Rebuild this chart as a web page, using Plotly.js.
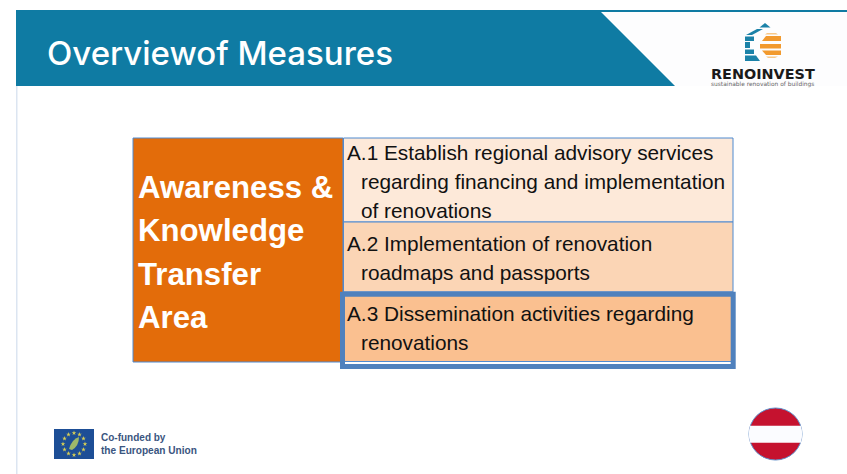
<!DOCTYPE html>
<html><head><meta charset="utf-8">
<script src="https://cdn.plot.ly/plotly-3.0.1.min.js"></script>
<style>html,body{margin:0;padding:0;background:#fff;overflow:hidden}#c{width:847px;height:474px}</style>
</head><body><div id="c"></div>
<script>
const titleText = "Overviewof Measures";
const areaLines = ["Awareness &","Knowledge","Transfer","Area"];
const areaY = [187,230,274,317];
const rowLines = [
  ["A.1 Establish regional advisory services",346,152],
  ["regarding financing and implementation",360,181],
  ["of renovations",360,210],
  ["A.2 Implementation of renovation",346,243],
  ["roadmaps and passports",360,272],
  ["A.3 Dissemination activities regarding",346,313],
  ["renovations",360,342]
];
const rowTop = [138,222,292];
const rowBottom = [222,292,361.5];
const rowFill = ["#FDE9D9","#FBD5B5","#FAC090"];
const starX = [74,79.5,83.5,85,83.5,79.5,74,68.5,64.5,63,64.5,68.5];
const starY = [433,434.5,438.5,444,449.5,453.5,455,453.5,449.5,444,438.5,434.5];

const shapes = [];
const rect=(x0,y0,x1,y1,fill,line,w)=>shapes.push({type:'rect',x0,y0,x1,y1,fillcolor:fill,line:{color:line||fill,width:w===undefined?0:w},layer:'below'});
const path=(d,fill)=>shapes.push({type:'path',path:d,fillcolor:fill,line:{width:0},layer:'below'});

// slide frame
rect(16,86,17.5,474,"#DCE5F1");
rect(16,10,600,86,"#0F7BA3");
rect(600,10,847,12,"#0F7BA3");
path("M600,10 L601,12 L675,86 L600,86 Z","#0F7BA3");
path("M603,12 L847,12 L847,86 L677,86 Z","#FDFDFE");

// table
rect(133,138,343,362,"#E36C0A","#4F8AD0",1);
rowTop.forEach((t,i)=>rect(343.5,t,733,rowBottom[i],rowFill[i],"#4F8AD0",1));
shapes.push({type:'rect',x0:342.5,y0:294.2,x1:733.2,y1:366.5,fillcolor:'rgba(0,0,0,0)',line:{color:"#4F81BD",width:5}});

// logo mark
const b="#1B82A8", o="#F29A2E";
path("M765,23 L770.5,27.5 L759.5,27.5 Z",b);
path("M757,29 L763,29 L752,35 L746,35 Z",b);
rect(745,36.5,754,41,b);
rect(745,42,750,48,b);
rect(745,49.5,754,54,b);
path("M745,55.5 L756,55.5 L760,61 L745,61 Z",b);
path("M767,33 L776,33 L778,34.5 L765,34.5 Z","#F8C98A");
path("M766,36 L781,36 L781,41 L762,41 Z",o);
rect(760,44,781,48.5,o);
path("M762,50.5 L781,50.5 L781,55 L766,55 Z",o);
path("M766,56.5 L778,56.5 L775,58 L768,58 Z","#F8C98A");

// EU flag
rect(54,429,94,459,"#1D4E96");
path("M69,449 Q72,439 79,437 Q79,446 72,450 Z","#9DB86A");

// Austria disc
shapes.push({type:'circle',x0:749,y0:408,x1:802,y1:460,fillcolor:"#C5122F",line:{color:"#5F8FC9",width:1},layer:'below'});
path("M750.2,425.7 L800.8,425.7 Q803.6,434 800.8,442.7 L750.2,442.7 Q747.4,434 750.2,425.7 Z","#FBFCFF");

const ann=(text,x,y,size,color,family,extra)=>Object.assign({text,x,y,xref:'x',yref:'y',xanchor:'left',yanchor:'middle',showarrow:false,align:'left',font:Object.assign({size,color,family},extra||{}),borderpad:0});
const annotations=[
  ann(titleText,46,53,33,"#FFFFFF","Inter",{weight:500}),
  ...areaLines.map((t,i)=>ann("<b>"+t+"</b>",137,areaY[i],31.2,"#FFFFFF","Liberation Sans")),
  ...rowLines.map(r=>ann(r[0],r[1],r[2],20.8,"#111111","Liberation Sans")),
  ann("<b>RENOINVEST</b>",709.5,73.5,14.4,"#1A1A1A","DejaVu Sans"),
  ann("sustainable renovation of buildings",710,84.5,5.9,"#666666","DejaVu Sans"),
  ann("<b>Co-funded by</b>",100,437,10,"#3A5580","Liberation Sans"),
  ann("<b>the European Union</b>",100,450,10.1,"#3A5580","Liberation Sans")
];

Plotly.newPlot('c',[{
  type:'scatter',mode:'markers',x:starX,y:starY,hoverinfo:'skip',
  marker:{symbol:'star',size:3.5,color:'#D8CF55'}
}],{
  width:847,height:474,margin:{l:0,r:0,t:0,b:0},
  paper_bgcolor:'#FFFFFF',plot_bgcolor:'#FFFFFF',showlegend:false,
  xaxis:{range:[0,847],visible:false,fixedrange:true},
  yaxis:{range:[474,0],visible:false,fixedrange:true},
  shapes,annotations
},{displayModeBar:false,staticPlot:true});
</script></body></html>
